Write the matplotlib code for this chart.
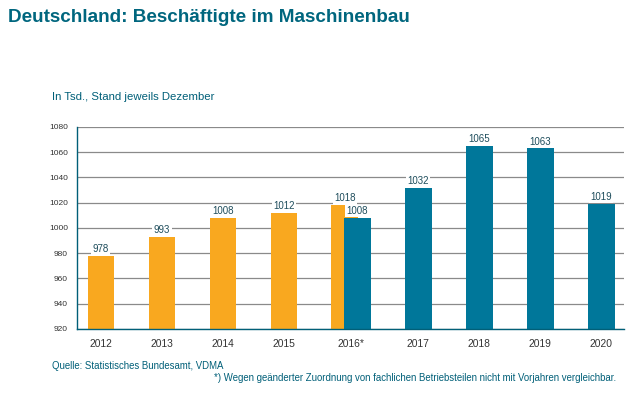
import matplotlib.pyplot as plt

# data (in Tsd., Stand jeweils Dezember)
years = ['2012', '2013', '2014', '2015', '2016*', '2017', '2018', '2019', '2020']
old_values = [978, 993, 1008, 1012, 1018]          # alte Zuordnung, 2012-2016
new_years = ['2016*', '2017', '2018', '2019', '2020']
new_values = [1008, 1032, 1065, 1063, 1019]         # neue Zuordnung, ab 2016
yticks = [920, 940, 960, 980, 1000, 1020, 1040, 1060, 1080]

ORANGE = '#F9A81F'
TEAL = '#00779A'
DARK = '#005F78'
TXT = '#1E4D5C'

plt.rcParams['font.family'] = ['Liberation Sans', 'DejaVu Sans']

fig = plt.figure(figsize=(6.31, 3.97), dpi=100)
W, H = 631, 397
ax = fig.add_axes([77 / W, 1 - 329 / H, (624 - 77) / W, (329 - 127) / H])

# slot positions: 2016 gets a slightly wider slot for the two bars
pos = {}
for i, y in enumerate(years):
    pos[y] = i if i < 4 else i + 0.1 + (0.1 if i > 4 else 0)
bw = 0.44
off = 0.105

for y, v in zip(years[:5], old_values):
    x = pos[y] - off if y == '2016*' else pos[y]
    ax.bar(x, v - 920, bottom=920, width=bw, color=ORANGE, zorder=2)
    ax.text(x, v + 1.5, str(v), ha='center', va='bottom', fontsize=7, color=TXT,
            bbox=dict(facecolor='white', edgecolor='none', pad=1), zorder=3)

for y, v in zip(new_years, new_values):
    x = pos[y] + off if y == '2016*' else pos[y]
    ax.bar(x, v - 920, bottom=920, width=bw, color=TEAL, zorder=2)
    ax.text(x, v + 1.5, str(v), ha='center', va='bottom', fontsize=7, color=TXT,
            bbox=dict(facecolor='white', edgecolor='none', pad=1), zorder=3)

ax.set_xlim(-0.393, 8.574)
ax.set_ylim(920, 1080)
ax.set_yticks(yticks)
ax.set_yticklabels([str(t) for t in yticks], fontsize=6, color='#333333')
ax.set_xticks([pos[y] for y in years])
ax.set_xticklabels(years, fontsize=7.4, color='#333333')
ax.tick_params(length=0)
ax.tick_params(axis='y', pad=6.5)
ax.tick_params(axis='x', pad=7)
ax.grid(axis='y', color='#8a8a8a', linewidth=0.9, zorder=0)
ax.set_axisbelow(True)
for s in ['top', 'right']:
    ax.spines[s].set_visible(False)
ax.spines['left'].set_color(DARK)
ax.spines['bottom'].set_color(DARK)
ax.spines['left'].set_linewidth(1.0)
ax.spines['bottom'].set_linewidth(1.0)

fig.text(8 / W, 1 - 18 / H, 'Deutschland: Beschäftigte im Maschinenbau', fontsize=13.6,
         fontweight='bold', color='#00667E', va='center', ha='left')
fig.text(52 / W, 1 - 97 / H, 'In Tsd., Stand jeweils Dezember', fontsize=8.2,
         color=DARK, va='center', ha='left')
fig.text(52 / W, 1 - 366 / H, 'Quelle: Statistisches Bundesamt, VDMA', fontsize=6.9,
         color=DARK, va='center', ha='left')
fig.text(616 / W, 1 - 378 / H,
         '*) Wegen geänderter Zuordnung von fachlichen Betriebsteilen nicht mit Vorjahren vergleichbar.',
         fontsize=6.9, color=DARK, va='center', ha='right')

fig.savefig('out.png', dpi=100)
